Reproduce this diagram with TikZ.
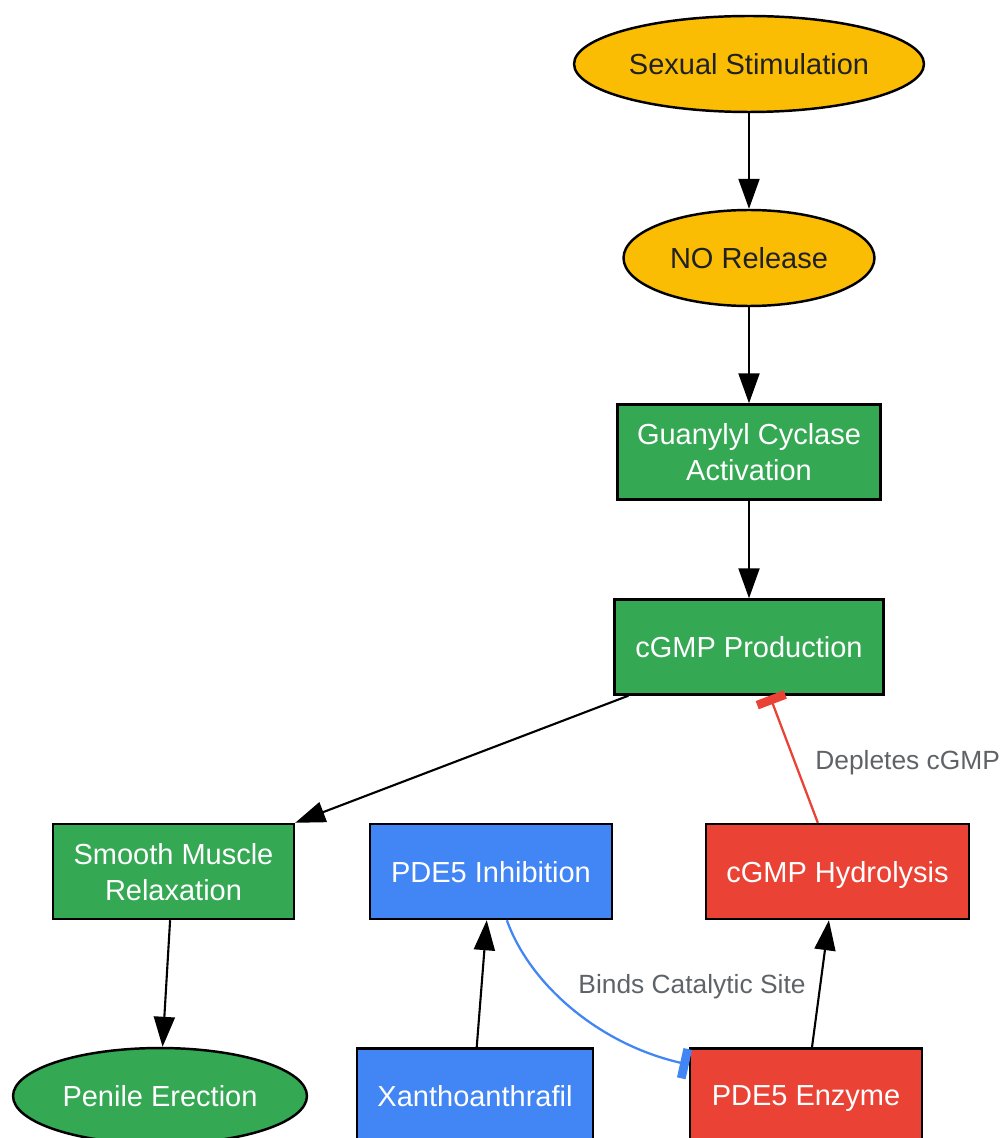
\documentclass[tikz,border=0pt]{standalone}
\usepackage{fontspec}
\setmainfont{Liberation Sans}
\usetikzlibrary{shapes.geometric, arrows.meta}
\definecolor{gyellow}{HTML}{FBBC04}
\definecolor{ggreen}{HTML}{34A853}
\definecolor{gblue}{HTML}{4285F4}
\definecolor{gred}{HTML}{EA4335}
\definecolor{labelgray}{HTML}{5F6368}
\definecolor{darktext}{HTML}{202124}

\begin{document}
\begin{tikzpicture}[x=0.02cm, y=-0.02cm,
		every node/.style={font=\fontsize{16.5}{20.5}\selectfont, inner sep=0pt, align=center},
		oval/.style={ellipse, draw=black, line width=1.4pt, minimum height=1.92cm, text depth=0pt},
		caixa/.style={rectangle, draw=black, line width=1.4pt, text=white, minimum height=1.9cm, text depth=0pt},
		seta/.style={-{Triangle[length=0.6cm, width=0.42cm]}, line width=1.2pt},
		bloq/.style={-{Bar[width=0.6cm, line width=5pt]}, line width=1.3pt},
		rotulo/.style={font=\fontsize{15}{18}\selectfont, text=labelgray}]
		\useasboundingbox (0,0) rectangle (1000,1138);
		% cascata principal
		\node[oval, fill=gyellow, text=darktext, minimum width=7cm] (stim) at (749,64) {Sexual Stimulation};
		\node[oval, fill=gyellow, text=darktext, minimum width=5.02cm] (norel) at (749,258) {NO Release};
		\node[caixa, fill=ggreen, minimum width=5.26cm] (gcact) at (749,452) {Guanylyl Cyclase\\Activation};
		\node[caixa, fill=ggreen, minimum width=5.38cm] (cgmp) at (749,647) {cGMP Production};
		\node[caixa, fill=ggreen, minimum width=4.82cm] (smr) at (173.5,871.5) {Smooth Muscle\\Relaxation};
		\node[oval, fill=ggreen, text=white, minimum width=5.88cm] (erec) at (160,1096) {Penile Erection};
		% inibidor e enzima
		\node[caixa, fill=gblue, minimum width=4.84cm] (inh) at (491,871.5) {PDE5 Inhibition};
		\node[caixa, fill=gred, minimum width=5.26cm] (hydro) at (837.5,871.5) {cGMP Hydrolysis};
		\node[caixa, fill=gblue, minimum width=4.72cm] (xan) at (475,1096) {Xanthoanthrafil};
		\node[caixa, fill=gred, minimum width=4.64cm] (enz) at (806,1096) {PDE5 Enzyme};

		\draw[seta] (stim) -- (norel);
		\draw[seta] (norel) -- (gcact);
		\draw[seta] (gcact) -- (cgmp);
		\draw[seta] (cgmp.-158) -- (smr.north east);
		\draw[seta] (smr.-94) -- (erec.87);
		\draw[seta] (xan.88) -- (inh.-95);
		\draw[seta] (enz.83) -- (hydro.-100);
		\draw[bloq, gred] (hydro.112) -- (cgmp.-67);
		\draw[bloq, gblue] (inh.-72) .. controls (530,985) and (600,1045) .. (enz.165);
		\node[rotulo, anchor=west] (lbldep) at (815,763) {Depletes cGMP};
		\node[rotulo] (lblbind) at (692,987) {Binds Catalytic Site};
		\end{tikzpicture}
\end{document}
